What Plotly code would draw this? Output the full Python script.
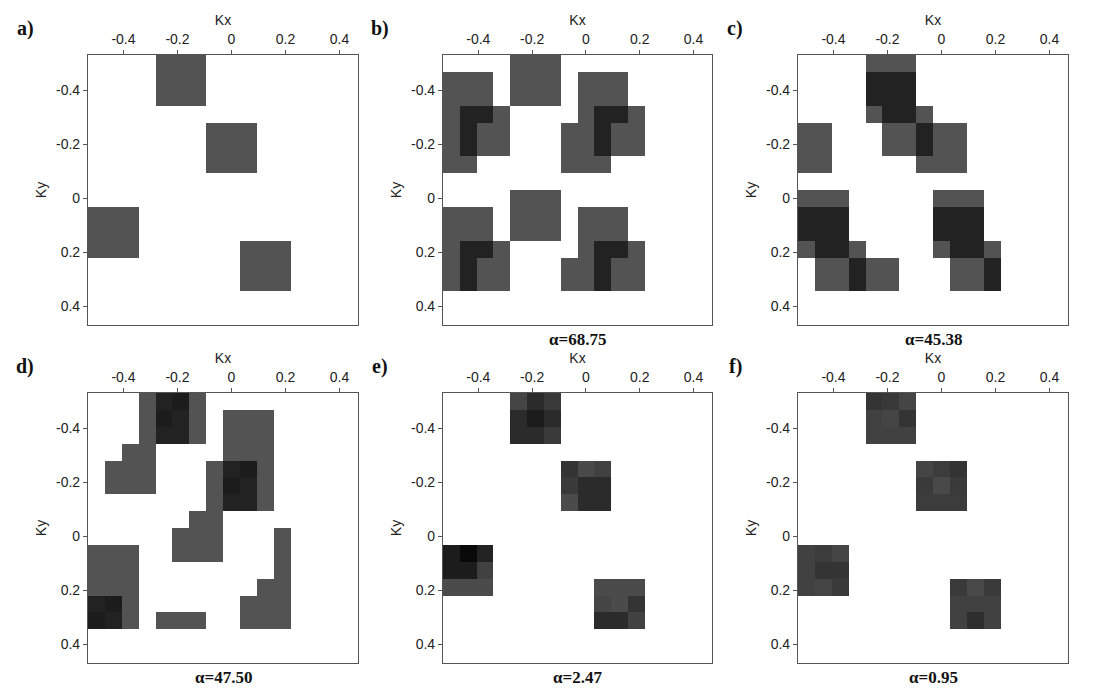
import plotly.graph_objects as go

# cell centres (Kx, Ky) = k/16
k_coords = [k / 16 for k in range(-8, 8)]
tick_vals = [-0.4, -0.2, 0, 0.2, 0.4]
tick_text = ["-0.4", "-0.2", "0", "0.2", "0.4"]

# amplitude code per character ('.' = empty)
levels = {'g': 0.04, 'd': 0.6, 'k': 0.68, 'b': 0.9, '1': 0.13, '2': 0.2, '3': 0.25,
          '4': 0.32, '5': 0.4, '6': 0.5, '7': 0.3, '8': 0.15, '9': 0.34, 'm': 0.38, 'n': 0.46}

E = "." * 16
panel_a = ["....ggg.........", "....ggg.........", "....ggg.........", E,
           ".......ggg......", ".......ggg......", ".......ggg......", E, E,
           "ggg.............", "ggg.............", "ggg......ggg....",
           ".........ggg....", ".........ggg....", E, E]
panel_b = ["....ggg.........", "ggg.ggg.ggg.....", "ggg.ggg.ggg.....", "gddg....gddg....",
           "gdgg...ggdgg....", "gdgg...ggdgg....", "gg.....ggg......", E,
           "....ggg.........", "ggg.ggg.ggg.....", "ggg.ggg.ggg.....", "gddg....gddg....",
           "gdgg...ggdgg....", "gdgg...ggdgg....", E, E]
panel_c = ["....ggg.........", "....ddd.........", "....ddd.........", "....gddg........",
           "gg...ggdgg......", "gg...ggdgg......", "gg.....ggg......", E,
           "ggg.....ggg.....", "ddd.....ddd.....", "ddd.....ddd.....", "gddg....gddg....",
           ".ggdgg...ggd....", ".ggdgg...ggd....", E, E]
panel_d = ["...gdkg.........", "...gkdg.ggg.....", "...gddg.ggg.....", "..gg....ggg.....",
           ".ggg...gdkg.....", ".ggg...gkdg.....", ".......gddg.....", "......gg........",
           ".....ggg...g....", "ggg..ggg...g....", "ggg........g....", "ggg.......gg....",
           "dkg......ggg....", "kdg.ggg..ggg....", E, E]
panel_e = ["....264.........", "....6k6.........", "....664.........", E,
           ".......583......", ".......466......", ".......166......", E, E,
           "kbd.............", "kk3.............", "111......111....",
           ".........215....", ".........663....", E, E]
panel_f = ["....592.........", "....325.........", "....333.........", E,
           ".......275......", ".......484......", ".......777......", E, E,
           "372.............", "35m.............", "324......484....",
           ".........333....", ".........3n3....", E, E]

panels = [panel_a, panel_b, panel_c, panel_d, panel_e, panel_f]
letters = ["a)", "b)", "c)", "d)", "e)", "f)"]
alphas = [None, "α=68.75", "α=45.38", "α=47.50", "α=2.47", "α=0.95"]

W, H = 1100, 700
OFF = 8  # page body margin
x_px = [(88, 358), (443, 712), (798, 1068)]
y_px = [(55, 325), (393, 663)]

fig = go.Figure()
font = "Liberation Sans, Arial, sans-serif"
serif = "Liberation Serif, Times New Roman, serif"
for i, p in enumerate(panels):
    r, c = divmod(i, 3)
    n = i + 1
    z = [[levels.get(ch) for ch in row] for row in p]
    xa = "x" if n == 1 else f"x{n}"
    ya = "y" if n == 1 else f"y{n}"
    fig.add_trace(go.Heatmap(x=k_coords, y=k_coords, z=z, xaxis=xa, yaxis=ya,
                             colorscale=[[0, "#565656"], [1, "#000000"]], zmin=0, zmax=1,
                             showscale=False, hoverongaps=False))
    x0, x1 = [v - OFF for v in x_px[c]]
    y0, y1 = [v - OFF for v in y_px[r]]
    axcommon = dict(showline=True, mirror=True, linecolor="#555", linewidth=1.2,
                    ticks="outside", ticklen=4, tickcolor="#555", tickvals=tick_vals,
                    ticktext=tick_text, showgrid=False, zeroline=False,
                    tickfont=dict(family=font, size=14, color="#222"))
    fig.layout[f"xaxis{'' if n == 1 else n}"] = dict(
        domain=[x0 / W, x1 / W], anchor=ya, side="top", range=[-0.53125, 0.46875],
        title=dict(text="Kx", font=dict(family=font, size=14, color="#222"), standoff=2),
        **axcommon)
    fig.layout[f"yaxis{'' if n == 1 else n}"] = dict(
        domain=[1 - y1 / H, 1 - y0 / H], anchor=xa, range=[0.46875, -0.53125],
        title=dict(text="Ky", font=dict(family=font, size=14, color="#222"), standoff=6),
        **axcommon)
    fig.add_annotation(text=f"<b>{letters[i]}</b>", xref="paper", yref="paper",
                       x=(x0 - 63) / W, y=1 - (y0 - 27) / H, xanchor="center", yanchor="middle",
                       showarrow=False, font=dict(family=serif, size=20, color="#111"))
    if alphas[i]:
        fig.add_annotation(text=f"<b>{alphas[i]}</b>", xref="paper", yref="paper",
                           x=(x0 + x1) / 2 / W, y=1 - (y1 + 14) / H, xanchor="center",
                           yanchor="middle", showarrow=False,
                           font=dict(family=serif, size=17, color="#111"))

fig.update_layout(width=W, height=H, margin=dict(l=0, r=0, t=0, b=0),
                  plot_bgcolor="white", paper_bgcolor="white")
fig.write_html("out.html")
